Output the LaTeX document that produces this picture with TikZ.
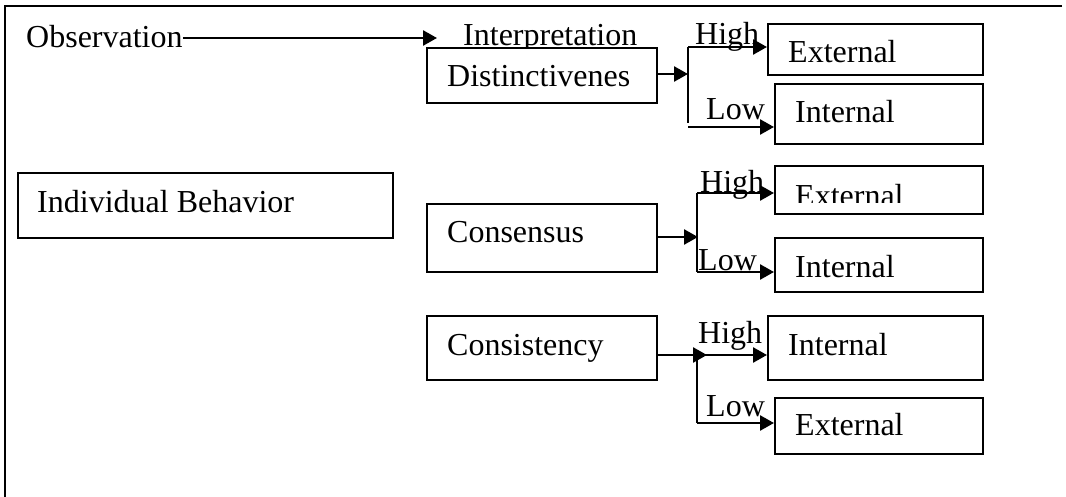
\documentclass[tikz,border=0pt]{standalone}
\usepackage{fontspec}
\setmainfont{Liberation Serif}
\usetikzlibrary{arrows.meta}

\tikzset{
  box/.style={draw, fill=white, line width=1.9pt, inner sep=0pt, anchor=north west},
  txt/.style={inner sep=0pt, anchor=base west, font=\fontsize{32}{36}\selectfont},
  link/.style={line width=2.6pt},
  arr/.style={link, -{Triangle[length=14pt,width=15pt]}},
  frameline/.style={line width=2.6pt}
}

% box named #1 with left, top, right, bottom edges #2..#5
\newcommand{\boxat}[5]{%
  \node[box, minimum width=#4-#2, minimum height=#5-#3] (#1) at (#2,#3) {};}

\begin{document}
\begin{tikzpicture}[x=1pt,y=-1pt]
  \useasboundingbox (0,0) rectangle (1066,497);

  % page frame: top and left rules
  \coordinate (fTL) at (5,6);
  \coordinate (fTR) at (1062,6);
  \coordinate (fBL) at (5,497);
  \draw[frameline] (fTR) -- (fTL) -- (fBL);

  % heading labels (drawn before the boxes so the boxes cover them)
  \node[txt] (obs) at (26,48) {Observation};
  \node[txt] (interp) at (463,46) {Interpretation};

  % left box
  \boxat{ib}{17}{172}{392}{237}
  \node[txt] (ibT) at (37,213) {Individual Behavior};

  % criteria boxes
  \boxat{dist}{426}{47}{656}{102}
  \node[txt] (distT) at (447,87) {Distinctivenes};
  \boxat{cons}{426}{203}{656}{271}
  \node[txt] (consT) at (447,243) {Consensus};
  \boxat{csty}{426}{315}{656}{379}
  \node[txt] (cstyT) at (447,355) {Consistency};

  % outcome boxes
  \boxat{e1}{767}{23}{982}{74}
  \node[txt] (e1T) at (788,63) {External};
  \boxat{i1}{774}{83}{982}{143}
  \node[txt] (i1T) at (795,123) {Internal};
  \boxat{e2}{774}{165}{982}{213}
  \begin{scope}
    \clip (776,167) rectangle (980,203);
    \node[txt] (e2T) at (795,207) {External};
  \end{scope}
  \boxat{i2}{774}{237}{982}{291}
  \node[txt] (i2T) at (795,277) {Internal};
  \boxat{i3}{767}{315}{982}{379}
  \node[txt] (i3T) at (788,355) {Internal};
  \boxat{e3}{774}{397}{982}{453}
  \node[txt] (e3T) at (795,435) {External};

  % High / Low labels
  \node[txt] (h1) at (695,45) {High};
  \node[txt] (l1) at (706,120) {Low};
  \node[txt] (h2) at (700,193) {High};
  \node[txt] (l2) at (698,270) {Low};
  \node[txt] (h3) at (698,343) {High};
  \node[txt] (l3) at (706,416) {Low};

  % Observation -> Interpretation
  \coordinate (obsEnd) at (437,38);
  \draw[arr] (obs.east |- obsEnd) -- (obsEnd);

  % Distinctiveness branch
  \coordinate (b1) at (688,74);
  \coordinate (b1t) at (688,47);
  \coordinate (b1b) at (688,127);
  \draw[arr] (dist.east |- b1) -- (b1);
  \draw[link] (b1t) -- (688,123);
  \draw[arr] (b1t) -- (e1.west |- b1t);
  \draw[arr] (b1b) -- (i1.west |- b1b);

  % Consensus branch
  \coordinate (b2) at (698,237);
  \coordinate (b2t) at (697,193);
  \coordinate (b2b) at (697,272);
  \draw[arr] (cons.east |- b2) -- (b2);
  \draw[link] (b2t) -- (b2b);
  \draw[arr] (b2t) -- (e2.west |- b2t);
  \draw[arr] (b2b) -- (i2.west |- b2b);

  % Consistency branch
  \coordinate (b3) at (707,355);
  \coordinate (b3t) at (697,355);
  \coordinate (b3b) at (697,423);
  \draw[arr] (csty.east |- b3) -- (b3);
  \draw[link] (b3t) -- (b3b);
  \draw[arr] (b3t) -- (i3.west |- b3t);
  \draw[arr] (b3b) -- (e3.west |- b3b);
\end{tikzpicture}
\end{document}
